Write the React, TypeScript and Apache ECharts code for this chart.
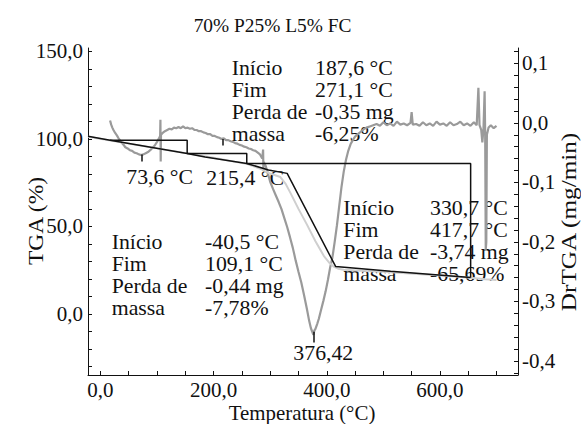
import React, { useEffect, useRef } from "react";
import * as echarts from "echarts";

const chartTitle = "70% P25% L5% FC";
const xName = "Temperatura (°C)";
const yLeftName = "TGA (%)";
const yRightName = "DrTGA (mg/min)";

const xTickLabels = [0, 200, 400, 600];
const xTicks = [0, 50, 100, 150, 200, 250, 300, 350, 400, 450, 500, 550, 600, 650, 700];
const tgaTickLabels = [0, 50, 100, 150];
const tgaTicks = [-30, -20, -10, 0, 10, 20, 30, 40, 50, 60, 70, 80, 90, 100, 110, 120, 130, 140, 150];
const drTickLabels = [-0.4, -0.3, -0.2, -0.1, 0, 0.1];
const drTicks = [-0.42, -0.4, -0.38, -0.36, -0.34, -0.32, -0.3, -0.28, -0.26, -0.24, -0.22, -0.2, -0.18, -0.16, -0.14, -0.12, -0.1, -0.08, -0.06, -0.04, -0.02, 0, 0.02, 0.04, 0.06, 0.08, 0.1, 0.12];

// TGA (%) black curve
const tgaCurve: [number, number][] = [
  [-22, 101.5], [17, 99.3], [153.3, 91.7], [185, 89.7], [258.6, 86.0], [297, 82.2], [330, 80.3],
  [415.6, 27.1], [512.8, 24.3], [654.3, 20.7],
];

// TGA (%) light grey measured curve
const tgaMeasured: [number, number][] = [
  [-22, 101.3], [100, 94.6], [200, 89.2], [260, 85.6], [285, 82.6], [300, 80.2], [318, 78.2], [327, 74.5],
  [336, 69], [350, 60], [365, 51], [380, 41.5], [395, 33], [405, 29], [412, 27], [420, 25.8], [430, 25.2],
  [460, 24.6], [500, 24], [560, 22.8], [620, 21.5], [654, 20.6], [680, 19.7], [700, 19.3],
];

// Step construction lines (TGA %)
const stepLine: [number, number][] = [
  [17, 99.3], [153.3, 99.3], [153.3, 91.7], [258.6, 91.7], [258.6, 86.0], [654.3, 86.0], [654.3, 20.7],
];

// DrTGA (mg/min) grey curve
const drtga: [number, number][] = [
  [17, 0.004], [19, -0.003], [21, -0.008], [23, -0.012], [26, -0.017], [29, -0.021], [32, -0.026], [35, -0.03],
  [38, -0.034], [41, -0.037], [44, -0.041], [48, -0.043], [52, -0.046], [56, -0.047], [60, -0.05], [64, -0.051],
  [68, -0.053], [72, -0.054], [76, -0.053], [80, -0.051], [84, -0.049], [88, -0.046], [92, -0.042], [96, -0.038],
  [100, -0.032], [103, -0.027], [105.5, -0.022], [106, 0.005], [106.5, -0.065], [107, -0.02], [110, -0.017],
  [114, -0.014], [118, -0.012], [122, -0.01], [126, -0.011], [130, -0.008], [134, -0.009], [138, -0.007],
  [142, -0.009], [146, -0.006], [150, -0.009], [154, -0.008], [158, -0.01], [162, -0.009], [166, -0.012],
  [170, -0.012], [174, -0.014], [178, -0.014], [182, -0.016], [186, -0.017], [190, -0.019], [194, -0.019],
  [198, -0.022], [202, -0.022], [206, -0.024], [210, -0.025], [214, -0.027], [218, -0.026], [222, -0.029],
  [226, -0.029], [230, -0.031], [234, -0.032], [238, -0.034], [242, -0.035], [246, -0.037], [250, -0.038],
  [254, -0.04], [258, -0.041], [262, -0.043], [266, -0.044], [270, -0.046], [274, -0.047], [278, -0.05],
  [282, -0.053], [286, -0.06], [287.5, -0.045], [288, -0.081], [288.5, -0.066], [292, -0.072], [296, -0.085],
  [300, -0.099], [305, -0.111], [310, -0.122], [315, -0.133], [320, -0.145], [325, -0.16], [330, -0.175],
  [335, -0.192], [340, -0.21], [345, -0.231], [350, -0.25], [355, -0.268], [360, -0.29], [365, -0.313],
  [369, -0.333], [372, -0.345], [374, -0.35], [376.4, -0.356], [378, -0.349], [380, -0.346], [383, -0.338],
  [386, -0.329], [390, -0.314], [394, -0.299], [398, -0.283], [402, -0.264], [406, -0.243], [410, -0.226],
  [414, -0.2], [418, -0.172], [422, -0.14], [426, -0.108], [430, -0.082], [434, -0.062], [438, -0.047],
  [442, -0.036], [446, -0.029], [450, -0.023], [455, -0.019], [460, -0.015], [465, -0.011], [470, -0.008],
  [476, -0.006], [482, -0.004], [488, -0.002], [494, -0.005], [500, 0.001], [506, -0.004], [512, -0.001],
  [518, -0.005], [524, 0.002], [530, -0.003], [536, -0.001], [542, -0.004], [548, 0.0], [550, 0.018],
  [552, -0.003], [558, -0.002], [564, -0.005], [570, 0.001], [576, -0.004], [582, -0.001], [588, -0.005],
  [594, 0.002], [600, -0.003], [606, -0.001], [612, -0.005], [618, 0.001], [624, -0.004], [630, -0.002],
  [636, 0.002], [642, -0.004], [648, -0.001], [654, -0.005], [660, 0.001], [665, -0.004], [668, 0.059],
  [670, -0.004], [673, -0.012], [675, -0.033], [677, -0.01], [679, 0.053], [680, -0.02], [681, -0.213],
  [682, -0.2], [683, -0.02], [686, -0.008], [690, -0.004], [695, -0.009], [700, -0.005],
];

// Peak markers on DrTGA
const peakMarks: [number, number, number][] = [
  [72.6, -0.053, -0.065],
  [215.4, -0.027, -0.038],
  [376.42, -0.351, -0.369],
];

const peakLabels = ["73,6 °C", "215,4 °C", "376,42"];
const blockLabels = ["Início", "Fim", "Perda de", "massa"];
const block1Values = ["187,6 °C", "271,1 °C", "-0,35 mg", "-6,25%"];
const block2Values = ["-40,5 °C", "109,1 °C", "-0,44 mg", "-7,78%"];
const block3Values = ["330,7 °C", "417,7 °C", "-3,74 mg", "-65,69%"];

const FONT_FAMILY = "Liberation Serif, Times New Roman, serif";
const FS = 20;
const SX = 1.09;
const TICK_FS = 21;
const TEXT_COLOR = "#111";
const fmt = (v: number) => v.toFixed(1).replace(".", ",");

function textEl(text: string, x: number, y: number, align: string = "left", rotation = 0, fs = FS, sx = SX) {
  return {
    type: "text",
    x,
    y,
    rotation,
    scaleX: sx,
    silent: true,
    style: {
      text,
      fontFamily: FONT_FAMILY,
      fontSize: fs,
      fill: TEXT_COLOR,
      textAlign: align,
      textVerticalAlign: "middle",
    },
  };
}

function block(labels: string[], values: string[], lx: number, vx: number, y0: number, step: number) {
  const els: any[] = [];
  labels.forEach((t, i) => els.push(textEl(t, lx, y0 + i * step)));
  values.forEach((t, i) => els.push(textEl(t, vx, y0 + i * step)));
  return els;
}

export default function App() {
  const ref = useRef<HTMLDivElement>(null);
  useEffect(() => {
    document.body.style.margin = "0";
    if (!ref.current) return;
    const chart = echarts.init(ref.current, undefined, { renderer: "svg" });
    const axisText = { color: TEXT_COLOR, fontFamily: FONT_FAMILY, fontSize: TICK_FS };
    const option: any = {
      animation: false,
      backgroundColor: "#fff",
      textStyle: { fontFamily: FONT_FAMILY },
      grid: { left: 88, right: 63, top: 48, bottom: 49, containLabel: false, outerBoundsMode: "none" },
      xAxis: {
        type: "value",
        min: -22,
        max: 738,
        axisLine: { show: true, onZero: false, lineStyle: { color: "#111", width: 1 } },
        axisTick: { show: true, inside: true, length: 4, customValues: xTicks, lineStyle: { color: "#111" } },
        axisLabel: { ...axisText, customValues: xTickLabels, formatter: fmt, margin: 4 },
        splitLine: { show: false },
      },
      yAxis: [
        {
          type: "value",
          position: "left",
          min: -35,
          max: 152,
          axisLine: { show: true, onZero: false, lineStyle: { color: "#111", width: 1 } },
          axisTick: { show: true, inside: true, length: 4, customValues: tgaTicks, lineStyle: { color: "#111" } },
          axisLabel: { ...axisText, customValues: tgaTickLabels, formatter: fmt, margin: 5 },
          splitLine: { show: false },
        },
        {
          type: "value",
          position: "right",
          min: -0.4235,
          max: 0.1257,
          axisLine: { show: true, onZero: false, lineStyle: { color: "#111", width: 1 } },
          axisTick: { show: true, inside: true, length: 4, customValues: drTicks, lineStyle: { color: "#111" } },
          axisLabel: { ...axisText, customValues: drTickLabels, formatter: fmt, margin: 4 },
          splitLine: { show: false },
        },
      ],
      series: [
        {
          name: "DrTGA",
          type: "line",
          yAxisIndex: 1,
          data: drtga,
          showSymbol: false,
          symbol: "none",
          lineStyle: { color: "#9a9a9a", width: 2.2 },
          z: 2,
        },
        {
          name: "TGA medido",
          type: "line",
          yAxisIndex: 0,
          data: tgaMeasured,
          showSymbol: false,
          symbol: "none",
          lineStyle: { color: "#cfcfcf", width: 2 },
          z: 3,
        },
        {
          name: "TGA",
          type: "line",
          yAxisIndex: 0,
          data: tgaCurve,
          showSymbol: false,
          symbol: "none",
          lineStyle: { color: "#111", width: 1.5 },
          z: 4,
        },
        {
          name: "Degraus",
          type: "line",
          yAxisIndex: 0,
          data: stepLine,
          showSymbol: false,
          symbol: "none",
          lineStyle: { color: "#111", width: 1.5 },
          z: 4,
        },
        {
          name: "Picos",
          type: "lines",
          coordinateSystem: "cartesian2d",
          xAxisIndex: 0,
          yAxisIndex: 1,
          data: peakMarks.map((p) => ({ coords: [[p[0], p[1]], [p[0], p[2]]] })),
          lineStyle: { color: "#111", width: 1.5, opacity: 1 },
          z: 5,
        },
      ],
      graphic: [
        textEl(chartTitle, 272.5, 25.6, "center", 0, 19, 1.02),
        textEl(xName, 302, 413, "center", 0, 20.5, 1.02),
        textEl(yLeftName, 35.5, 221, "center", Math.PI / 2, 21, 1.12),
        textEl(yRightName, 569, 222, "center", Math.PI / 2, 21, 1.2),
        textEl(peakLabels[0], 126.3, 177.5),
        textEl(peakLabels[1], 206.3, 178.5),
        textEl(peakLabels[2], 323.3, 353.6, "center"),
        ...block(blockLabels, block1Values, 231.7, 315, 68.6, 22),
        ...block(blockLabels, block2Values, 111.7, 205, 242, 22),
        ...block(blockLabels, block3Values, 343.3, 430, 208.6, 22),
      ],
    };
    chart.setOption(option);
    return () => chart.dispose();
  }, []);
  return <div ref={ref} style={{ width: 581, height: 424 }} />;
}
